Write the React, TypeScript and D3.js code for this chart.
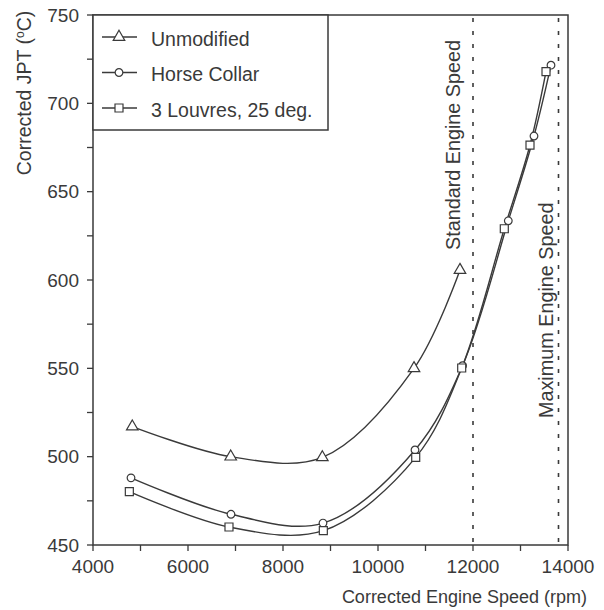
import React from "react";
import * as d3 from "d3";

const W = 604;
const H = 610;

// Data (rpm, °C)
const unmodRpm = [4827, 6899, 8828, 10758, 11726];
const unmodJpt = [517, 500, 499.6, 550, 605.6];
const collarRpm = [4800, 6905, 8842, 10779, 11780, 12743, 13284, 13642];
const collarJpt = [488, 467.4, 462.4, 503.8, 551.5, 633.5, 681.5, 721.6];
const louvresRpm = [4765, 6863, 8849, 10794, 11762, 12659, 13200, 13537];
const louvresJpt = [480.2, 460.2, 458.1, 499.6, 550.2, 629, 676.4, 718];

const xTicks = [4000, 6000, 8000, 10000, 12000, 14000];
const xMinorTicks = d3.range(4000, 14001, 1000);
const yTicks = [450, 500, 550, 600, 650, 700, 750];
const yMinorTicks = d3.range(450, 751, 25);

const refLines = [
  { rpm: 12000, label: "Standard Engine Speed" },
  { rpm: 13800, label: "Maximum Engine Speed" },
];

const seriesNames = ["Unmodified", "Horse Collar", "3 Louvres, 25 deg."];

const INK = "#3a3a3a";
const FONT = "'Liberation Sans', Arial, Helvetica, sans-serif";

export default function App() {
  const x = d3.scaleLinear().domain([4000, 14000]).range([93, 568]);
  const y = d3.scaleLinear().domain([450, 750]).range([545, 15]);

  const series = [
    { name: seriesNames[0], rpm: unmodRpm, jpt: unmodJpt, sym: d3.symbolTriangle, size: 58 },
    { name: seriesNames[1], rpm: collarRpm, jpt: collarJpt, sym: d3.symbolCircle, size: 46 },
    { name: seriesNames[2], rpm: louvresRpm, jpt: louvresJpt, sym: d3.symbolSquare, size: 64 },
  ];

  const line = d3
    .line<[number, number]>()
    .x((d) => x(d[0]))
    .y((d) => y(d[1]))
    .curve(d3.curveCatmullRom.alpha(0.5));

  const [x0, x1] = x.range();
  const [yb, yt] = y.range();

  return (
    <svg
      width={W}
      height={H}
      style={{ position: "absolute", left: 0, top: 0, background: "#fff" }}
      fontFamily={FONT}
    >
      <rect x={0} y={0} width={W} height={H} fill="#fff" />

      {/* reference dotted lines */}
      {refLines.map((r) => (
        <line
          key={r.rpm}
          x1={x(r.rpm)}
          x2={x(r.rpm)}
          y1={yt + 3}
          y2={yb}
          stroke={INK}
          strokeWidth={1.6}
          strokeDasharray="4,9"
        />
      ))}
      {refLines.map((r, i) => (
        <text
          key={r.label}
          transform={`translate(${x(r.rpm) - (i === 0 ? 13 : 6)},${i === 0 ? 250 : 418}) rotate(-90)`}
          fontSize={19.8}
          fill={INK}
        >
          {r.label}
        </text>
      ))}

      {/* curves */}
      {series.map((s) => (
        <path
          key={s.name}
          d={line(s.rpm.map((r, i) => [r, s.jpt[i]] as [number, number])) || ""}
          fill="none"
          stroke={INK}
          strokeWidth={1.4}
        />
      ))}
      {/* markers */}
      {series.map((s) =>
        s.rpm.map((r, i) => (
          <path
            key={s.name + i}
            d={d3.symbol().type(s.sym).size(s.size)() || ""}
            transform={`translate(${x(r)},${y(s.jpt[i])})`}
            fill="#fff"
            stroke={INK}
            strokeWidth={1.2}
          />
        ))
      )}

      {/* frame */}
      <rect x={x0} y={yt} width={x1 - x0} height={yb - yt} fill="none" stroke={INK} strokeWidth={1.5} />

      {/* x ticks */}
      {xMinorTicks.map((t) => (
        <line key={"xt" + t} x1={x(t)} x2={x(t)} y1={yb} y2={yb + 6} stroke={INK} strokeWidth={1.3} />
      ))}
      {xTicks.map((t) => (
        <text key={"xl" + t} x={x(t)} y={573} textAnchor="middle" fontSize={19} fill={INK}>
          {t}
        </text>
      ))}
      {/* y ticks */}
      {yMinorTicks.map((t) => (
        <line key={"yt" + t} x1={x0 - 6} x2={x0} y1={y(t)} y2={y(t)} stroke={INK} strokeWidth={1.3} />
      ))}
      {yTicks.map((t) => (
        <text key={"yl" + t} x={79} y={y(t)} dy="0.35em" textAnchor="end" fontSize={19} fill={INK}>
          {t}
        </text>
      ))}

      {/* axis titles */}
      <text x={587} y={603} textAnchor="end" fontSize={18} fill={INK}>
        Corrected Engine Speed (rpm)
      </text>
      <text transform="translate(31,93) rotate(-90)" textAnchor="middle" fontSize={19.5} fill={INK}>
        Corrected JPT (
        <tspan fontSize={12} dy={-7}>o</tspan>
        <tspan dy={7}>C)</tspan>
      </text>

      {/* legend */}
      <rect x={x0} y={yt} width={328 - x0} height={130 - yt} fill="#fff" stroke={INK} strokeWidth={1.5} />
      {series.map((s, i) => {
        const ry = 37 + i * 35.5;
        return (
          <g key={"lg" + s.name}>
            <line x1={102} x2={137} y1={ry} y2={ry} stroke={INK} strokeWidth={1.3} />
            <path
              d={d3.symbol().type(s.sym).size(s.size)() || ""}
              transform={`translate(119,${ry})`}
              fill="#fff"
              stroke={INK}
              strokeWidth={1.2}
            />
            <text x={151} y={ry + 8.5} fontSize={19.5} fill={INK}>
              {s.name}
            </text>
          </g>
        );
      })}
    </svg>
  );
}
